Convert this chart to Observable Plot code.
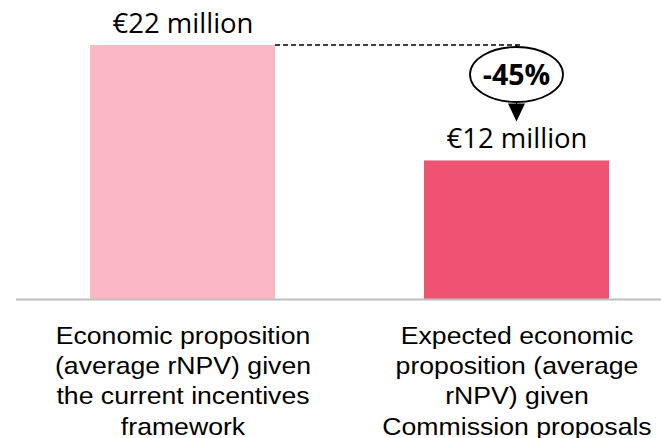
<!DOCTYPE html>
<html>
<head>
<meta charset="utf-8">
<script src="https://cdn.jsdelivr.net/npm/d3@7"></script>
<script src="https://cdn.jsdelivr.net/npm/@observablehq/plot@0.6"></script>
<style>
  html, body { margin: 0; padding: 0; background: #fff; }
  #chart svg { display: block; overflow: visible; }
</style>
</head>
<body>
<div id="chart"></div>
<script>
const categories = [
  "Economic proposition\n(average rNPV) given\nthe current incentives\nframework",
  "Expected economic\nproposition (average\nrNPV) given\nCommission proposals"
];
const values = [22, 12];
const valueLabels = ["€22 million", "€12 million"];
const changeLabel = "-45%";
const colors = ["#FAB8C7", "#F05274"];

const data = categories.map((c, i) => ({category: c, value: values[i], label: valueLabels[i]}));

function annotation(index, scales) {
  const x = scales.x, y = scales.y;
  const bw = x.bandwidth ? x.bandwidth() : 0;
  const x1 = x(categories[0]) + bw;          // right edge of first bar
  const xc = x(categories[1]) + bw / 2;      // centre of second bar
  const yTop = y(values[0]);
  const tip = y(values[1]) - 39;
  const g = d3.create("svg:g");
  g.append("line")
    .attr("x1", x1).attr("x2", xc + 4).attr("y1", yTop).attr("y2", yTop)
    .attr("stroke", "#000").attr("stroke-width", 1.5).attr("stroke-dasharray", "5,3");
  g.append("line")
    .attr("x1", xc).attr("x2", xc).attr("y1", yTop).attr("y2", tip - 15)
    .attr("stroke", "#000").attr("stroke-width", 1.3);
  g.append("path")
    .attr("d", `M${xc - 8.5},${tip - 18}L${xc + 8.5},${tip - 18}L${xc},${tip}Z`)
    .attr("fill", "#000");
  const cy = yTop + 29.5;
  g.append("ellipse")
    .attr("cx", xc).attr("cy", cy).attr("rx", 46.5).attr("ry", 27.5)
    .attr("fill", "#fff").attr("stroke", "#000").attr("stroke-width", 1.8);
  g.append("text")
    .attr("x", xc).attr("y", cy + 10)
    .attr("text-anchor", "middle")
    .attr("font-family", "'Open Sans', sans-serif")
    .attr("font-weight", "bold")
    .attr("font-size", 28.5)
    .attr("fill", "#000")
    .text(changeLabel);
  return g.node();
}

const chart = Plot.plot({
  width: 661,
  height: 438,
  marginLeft: 90,
  marginRight: 51.5,
  marginTop: 45,
  marginBottom: 139,
  x: {domain: categories, paddingInner: 0.446, paddingOuter: 0, axis: null},
  y: {domain: [0, 22], axis: null},
  color: {domain: categories, range: colors},
  style: {background: "#fff"},
  marks: [
    Plot.barY(data, {x: "category", y: "value", fill: "category"}),
    Plot.ruleY([0], {stroke: "#BFBFBF", strokeWidth: 2, insetLeft: -74, insetRight: -52}),
    Plot.text(data, {
      x: "category", y: "value", text: "label",
      dy: -13, lineAnchor: "bottom",
      fontFamily: "'Open Sans', sans-serif", fontSize: 27.5, fill: "#000"
    }),
    Plot.text(data, {
      x: "category", y: () => 0, text: "category",
      dy: 23, lineAnchor: "top", lineHeight: 1.26,
      fontFamily: "'Liberation Sans', Arial, sans-serif", fontSize: 24, fill: "#000"
    }),
    annotation
  ]
});

// widen the multi-line category labels horizontally, as in the reference
chart.querySelectorAll("text").forEach(t => {
  if (t.querySelectorAll("tspan").length < 2) return;
  const tr = t.getAttribute("transform");
  if (tr) {
    t.setAttribute("transform", tr + " scale(1.11,1)");
  } else {
    const cx = +t.getAttribute("x") || 0;
    t.setAttribute("transform", `translate(${cx},0) scale(1.11,1) translate(${-cx},0)`);
  }
});

document.getElementById("chart").appendChild(chart);
</script>
</body>
</html>
